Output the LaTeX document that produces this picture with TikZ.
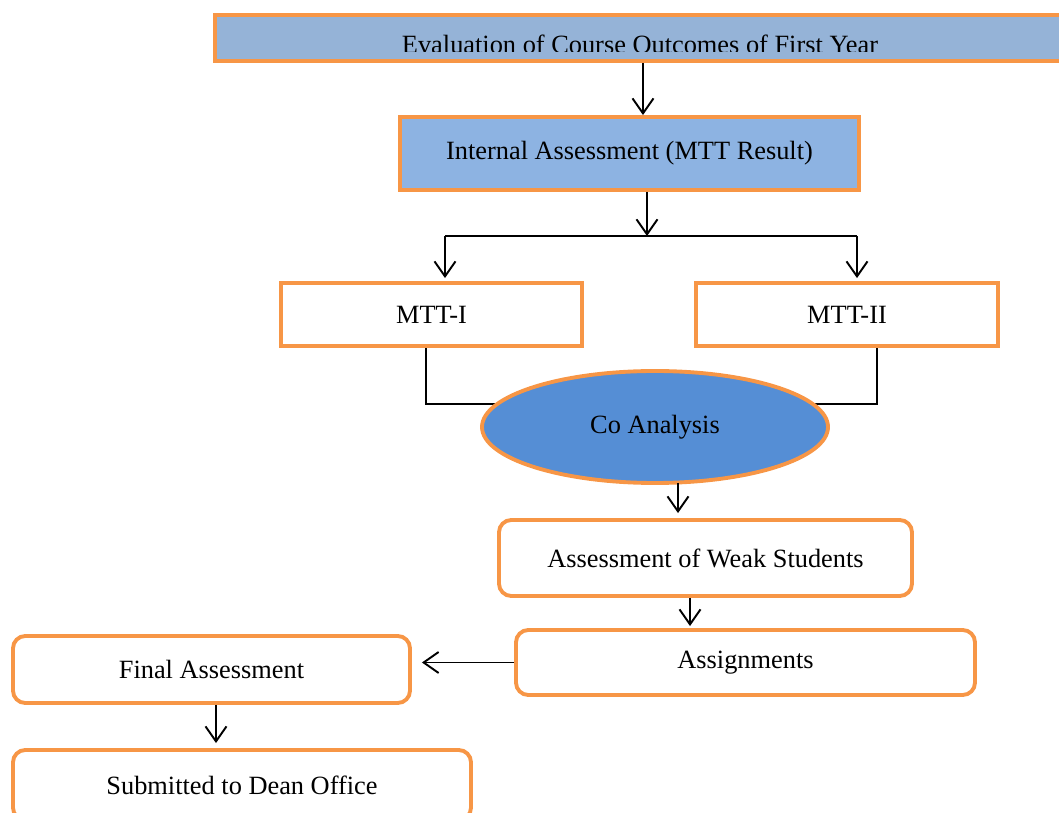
\documentclass[tikz,border=0pt]{standalone}
\usepackage{fontspec}
\setmainfont{Liberation Serif}
\usetikzlibrary{arrows.meta,positioning,shapes.geometric,backgrounds}
\definecolor{coorange}{RGB}{247,150,70}
\definecolor{coblue}{RGB}{149,179,215}
\definecolor{comidblue}{RGB}{141,179,226}
\definecolor{codarkblue}{RGB}{85,142,213}

\begin{document}
\begin{tikzpicture}[
  box/.style={draw=coorange,line width=2.2pt,fill=white,
              text centered,font=\fontsize{15}{18}\selectfont,inner sep=4pt},
  rbox/.style={box,rounded corners=7pt},
  arr/.style={-{Straight Barb[length=0.3cm,width=0.42cm]},line width=1.1pt},
  link/.style={line width=0.9pt}
]
  \useasboundingbox (0,0) rectangle (21.18,-16.26);
  \node[box,fill=coblue,minimum width=16.94cm,minimum height=0.92cm] (top) at (12.77,-0.76) {};
  \begin{scope}
    \clip (4.34,-0.38) rectangle (21.2,-1.04);
    \node[font=\fontsize{15}{18}\selectfont,anchor=base,inner sep=0pt] (toptext) at (12.8,-1.07)
      {Evaluation of Course Outcomes of First Year};
  \end{scope}
  \node[box,fill=comidblue,minimum width=9.18cm,minimum height=1.46cm] (int) at (12.59,-3.07)
    {Internal Assessment (MTT Result)};
  \node[box,minimum width=6.02cm,minimum height=1.26cm] (mtt1) at (8.63,-6.29) {MTT-I};
  \node[box,minimum width=6.04cm,minimum height=1.26cm] (mtt2) at (16.94,-6.29) {MTT-II};
  \node[box,ellipse,fill=codarkblue,minimum width=6.92cm,minimum height=2.24cm] (co) at (13.1,-8.54)
    {Co Analysis};
  \node[rbox,minimum width=8.26cm,minimum height=1.52cm] (weak) at (14.11,-11.16)
    {Assessment of Weak Students};
  \node[rbox,minimum width=9.18cm,minimum height=1.3cm] (assign) at (14.91,-13.25) {Assignments};
  \node[rbox,minimum width=7.94cm,minimum height=1.34cm] (final) at (4.23,-13.39) {Final Assessment};
  \node[rbox,minimum width=9.16cm,minimum height=1.4cm] (sub) at (4.84,-15.7) {Submitted to Dean Office};

  \coordinate (split) at (12.94,-4.72);
  \coordinate (left) at (8.9,-4.72);
  \coordinate (right) at (17.14,-4.72);

  \draw[arr] ([xshift=0.09cm]top.south) -- ([xshift=0.09cm]top.south |- int.north);
  \draw[arr] ([xshift=0.35cm]int.south) -- (split);
  \draw[link,line width=1.1pt] (left) -- (right);
  \draw[arr] (left) -- ([yshift=0.06cm]left |- mtt1.north);
  \draw[arr] (right) -- ([yshift=0.06cm]right |- mtt2.north);
  \begin{scope}[on background layer]
    \draw[link] ([xshift=-0.11cm]mtt1.south) |- ([yshift=0.46cm]co.center);
    \draw[link] ([xshift=0.6cm]mtt2.south) |- ([yshift=0.46cm]co.center);
  \end{scope}
  \draw[arr] ([xshift=0.46cm,yshift=0.04cm]co.south) -- ([xshift=0.46cm,yshift=0.1cm]co.south |- weak.north);
  \draw[arr] ([xshift=-0.31cm]weak.south) -- ([xshift=-0.31cm,yshift=0.04cm]weak.south |- assign.north);
  \draw[arr,shorten >=0.2cm] (assign.west) -- (assign.west -| final.east);
  \draw[arr] ([xshift=0.09cm]final.south) -- ([xshift=0.09cm,yshift=0.1cm]final.south |- sub.north);
\end{tikzpicture}
\end{document}
